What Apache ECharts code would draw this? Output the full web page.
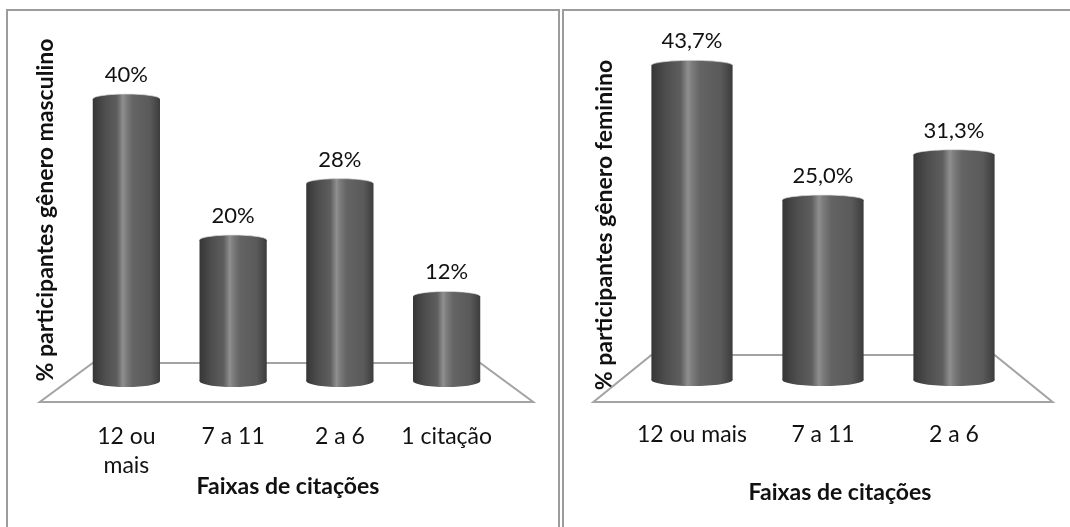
<!DOCTYPE html>
<html>
<head>
<meta charset="utf-8">
<script src="https://cdn.jsdelivr.net/npm/echarts@6/dist/echarts.min.js"></script>
<style>
  html, body { margin: 0; padding: 0; background: #fff; }
  #chart { width: 1070px; height: 527px; }
</style>
</head>
<body>
<div id="chart"></div>
<script>
// Citation bands and share of participants, by gender
const categoriesMale = ['12 ou\nmais', '7 a 11', '2 a 6', '1 citação'];
const valuesMale = [40, 20, 28, 12];
const categoriesFemale = ['12 ou mais', '7 a 11', '2 a 6'];
const valuesFemale = [43.7, 25.0, 31.3];

const yTitleMale = '% participantes gênero masculino';
const yTitleFemale = '% participantes gênero feminino';
const xTitle = 'Faixas de citações';

const FONT = 'Lato, "Open Sans", sans-serif';

const fmtMale = v => v + '%';
const fmtFemale = v => v.toFixed(1).replace('.', ',') + '%';

function cylinderFill() {
  return new echarts.graphic.LinearGradient(0, 0, 1, 0, [
    { offset: 0, color: '#363636' },
    { offset: 0.18, color: '#4e4e4e' },
    { offset: 0.36, color: '#5e5e5e' },
    { offset: 0.45, color: '#8f8f8f' },
    { offset: 0.50, color: '#7c7c7c' },
    { offset: 0.60, color: '#646464' },
    { offset: 0.85, color: '#5a5a5a' },
    { offset: 1, color: '#3c3c3c' }
  ]);
}

// Upper half of an ellipse as a polyline, used as the light rim of the cap
function upperRim(cx, cy, rx, ry) {
  const pts = [];
  for (let k = 0; k <= 24; k++) {
    const t = Math.PI + (Math.PI * k) / 24;
    pts.push([cx + rx * Math.cos(t), cy + ry * Math.sin(t)]);
  }
  return pts;
}

// Cylinder bar: body + rounded top and bottom caps + value label
function makeCylinder(fmt, widthRatio) {
  return function (params, api) {
    const idx = api.value(0);
    const val = api.value(1);
    const top = api.coord([idx, val]);
    const base = api.coord([idx, 0]);
    const bw = api.size([1, 0])[0] * widthRatio;
    const x0 = top[0] - bw / 2;
    return {
      type: 'group',
      children: [
        {
          type: 'ellipse',
          shape: { cx: top[0], cy: base[1], rx: bw / 2, ry: 6 },
          style: { fill: cylinderFill() }
        },
        {
          type: 'rect',
          shape: { x: x0, y: top[1], width: bw, height: base[1] - top[1] },
          style: { fill: cylinderFill() }
        },
        {
          type: 'ellipse',
          shape: { cx: top[0], cy: top[1], rx: bw / 2, ry: 5 },
          style: { fill: cylinderFill() }
        },
        {
          type: 'polyline',
          shape: { points: upperRim(top[0], top[1], bw / 2, 5) },
          style: { stroke: 'rgba(225,225,225,0.7)', lineWidth: 1, fill: null }
        },
        {
          type: 'text',
          style: {
            text: fmt(val),
            x: top[0],
            y: top[1] - 24,
            align: 'center',
            verticalAlign: 'middle',
            font: '22px ' + FONT,
            fill: '#111'
          }
        }
      ]
    };
  };
}

// Floor outline under the bars, built from the first/last category positions
function makeFloor(count, widthRatio, backOffset, frontOffset, spread) {
  return function (params, api) {
    if (params.dataIndex !== 0) return null;
    const first = api.coord([0, 0]);
    const last = api.coord([count - 1, 0]);
    const bw = api.size([1, 0])[0] * widthRatio;
    const bl = [first[0] - bw / 2, first[1] - backOffset];
    const br = [last[0] + bw / 2, first[1] - backOffset];
    const fr = [last[0] + bw / 2 + spread, first[1] + frontOffset];
    const fl = [first[0] - bw / 2 - spread, first[1] + frontOffset];
    return {
      type: 'polygon',
      shape: { points: [bl, br, fr, fl] },
      style: { fill: '#fff', stroke: '#a3a3a3', lineWidth: 2 }
    };
  };
}

const chart = echarts.init(document.getElementById('chart'));

chart.setOption({
  backgroundColor: '#fff',
  animation: false,
  grid: [
    { left: 73, width: 427, top: 28.5, bottom: 146 },
    { left: 626.5, width: 393, top: 20, bottom: 147 }
  ],
  xAxis: [
    {
      type: 'category', gridIndex: 0, data: categoriesMale,
      axisLine: { show: false }, axisTick: { show: false },
      axisLabel: { margin: 41, fontSize: 23, lineHeight: 29, color: '#111', fontFamily: FONT, interval: 0 }
    },
    {
      type: 'category', gridIndex: 1, data: categoriesFemale,
      axisLine: { show: false }, axisTick: { show: false },
      axisLabel: { margin: 40, fontSize: 23, lineHeight: 29, color: '#111', fontFamily: FONT, interval: 0 }
    }
  ],
  yAxis: [
    { type: 'value', gridIndex: 0, min: 0, max: 50, show: false },
    { type: 'value', gridIndex: 1, min: 0, max: 50, show: false }
  ],
  series: [
    {
      type: 'custom', xAxisIndex: 0, yAxisIndex: 0, z: 1,
      renderItem: makeFloor(categoriesMale.length, 0.63, 18, 21, 53),
      data: valuesMale.map((v, i) => [i, v])
    },
    {
      type: 'custom', xAxisIndex: 1, yAxisIndex: 1, z: 1,
      renderItem: makeFloor(categoriesFemale.length, 0.62, 25, 22, 58),
      data: valuesFemale.map((v, i) => [i, v])
    },
    {
      type: 'custom', xAxisIndex: 0, yAxisIndex: 0, z: 2,
      renderItem: makeCylinder(fmtMale, 0.63),
      data: valuesMale.map((v, i) => [i, v])
    },
    {
      type: 'custom', xAxisIndex: 1, yAxisIndex: 1, z: 2,
      renderItem: makeCylinder(fmtFemale, 0.62),
      data: valuesFemale.map((v, i) => [i, v])
    }
  ],
  graphic: [
    {
      type: 'rect', z: 0,
      shape: { x: 7, y: 10, width: 552, height: 540 },
      style: { fill: 'none', stroke: '#9c9c9c', lineWidth: 2 }
    },
    {
      type: 'rect', z: 0,
      shape: { x: 563, y: 10, width: 540, height: 540 },
      style: { fill: 'none', stroke: '#9c9c9c', lineWidth: 2 }
    },
    {
      type: 'text', x: 288, y: 487,
      style: { text: xTitle, align: 'center', verticalAlign: 'middle', font: 'bold 23px ' + FONT, fill: '#111' }
    },
    {
      type: 'text', x: 840, y: 493,
      style: { text: xTitle, align: 'center', verticalAlign: 'middle', font: 'bold 23px ' + FONT, fill: '#111' }
    },
    {
      type: 'text', x: 46, y: 210, rotation: Math.PI / 2,
      style: { text: yTitleMale, align: 'center', verticalAlign: 'middle', font: 'bold 23px ' + FONT, fill: '#111' }
    },
    {
      type: 'text', x: 605, y: 225, rotation: Math.PI / 2,
      style: { text: yTitleFemale, align: 'center', verticalAlign: 'middle', font: 'bold 23px ' + FONT, fill: '#111' }
    }
  ]
});
</script>
</body>
</html>
